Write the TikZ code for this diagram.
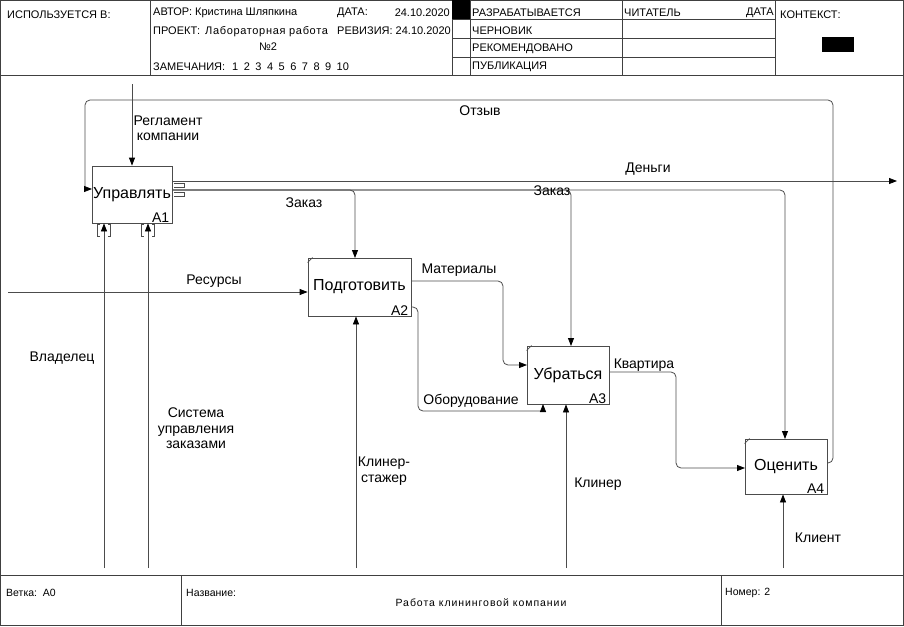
\documentclass[tikz,border=0pt]{standalone}
\usepackage{fontspec}
\setmainfont{Liberation Sans}
\usetikzlibrary{arrows.meta}

\begin{document}
\begin{tikzpicture}[x=1pt,y=-1pt,
  frame/.style={draw=black!75, line width=0.9pt},
  conn/.style={draw=black!70, line width=0.8pt},
  arr/.style={conn, -{Triangle[length=8pt,width=6pt,color=black]}},
  fn/.style={draw=black!70, line width=0.8pt, fill=white, inner sep=0pt,
    font=\fontsize{16}{18}\selectfont},
  fnum/.style={inner sep=0pt, anchor=south east, font=\fontsize{14}{16}\selectfont},
  lab/.style={inner sep=0pt, font=\fontsize{14}{15.5}\selectfont},
  hdr/.style={inner sep=0pt, anchor=west, font=\fontsize{11}{12}\selectfont},
  ftr/.style={inner sep=0pt, anchor=west, font=\fontsize{10.5}{12}\selectfont},
  tick/.style={draw=black!70, line width=0.7pt}
]
\useasboundingbox (0,0) rectangle (904,626);

% ---------- frame, header and footer ----------
\draw[frame] (0.5,0.5) rectangle (903,625.5);
\draw[frame] (0.5,75) -- (903,75);
\draw[frame] (150,0.5) -- (150,75);
\draw[frame] (452,0.5) -- (452,75);
\draw[frame] (470,0.5) -- (470,75);
\draw[frame] (622,0.5) -- (622,75);
\draw[frame] (775,0.5) -- (775,75);
\foreach \yy in {19,38,57} \draw[frame] (452,\yy) -- (775,\yy);
\fill[black] (452,0.5) rectangle (470,19);
\fill[black] (822,37) rectangle (854,52);
\draw[frame] (0.5,575) -- (903,575);
\draw[frame] (181,575) -- (181,625.5);
\draw[frame] (721,575) -- (721,625.5);

\node[hdr] (used) at (7,15) {ИСПОЛЬЗУЕТСЯ В:};
\node[hdr] (author) at (153,13) {АВТОР: Кристина Шляпкина};
\node[hdr] (date) at (337,13) {ДАТА:};
\node[hdr, anchor=east] (dateval) at (450,13) {24.10.2020};
\node[hdr] (project) at (153,31) {ПРОЕКТ:};
\node[hdr] (projname) at (205,32) {\addfontfeature{LetterSpace=6}Лабораторная работа};
\node[hdr, anchor=center] (projnum) at (268,47) {№2};
\node[hdr] (rev) at (337,31) {РЕВИЗИЯ: 24.10.2020};
\node[hdr] (notes) at (153,67) {ЗАМЕЧАНИЯ:\hspace{7pt}1\hspace{5.5pt}2\hspace{5.5pt}3\hspace{5.5pt}4\hspace{5.5pt}5\hspace{5.5pt}6\hspace{5.5pt}7\hspace{5.5pt}8\hspace{5.5pt}9\hspace{5.5pt}10};
\node[hdr] (st1) at (472,13) {РАЗРАБАТЫВАЕТСЯ};
\node[hdr] (st2) at (472,31) {ЧЕРНОВИК};
\node[hdr] (st3) at (472,49) {РЕКОМЕНДОВАНО};
\node[hdr] (st4) at (472,67) {ПУБЛИКАЦИЯ};
\node[hdr] (reader) at (624,13) {ЧИТАТЕЛЬ};
\node[hdr, anchor=east] (rdate) at (774,13) {ДАТА};
\node[hdr] (context) at (780,15) {КОНТЕКСТ:};

\node[ftr] (node) at (6,593) {Ветка:\ \ A0};
\node[ftr] (title) at (186,593) {Название:};
\node[ftr, anchor=center] (titletext) at (481,603) {\addfontfeature{LetterSpace=9}Работа клининговой компании};
\node[ftr] (number) at (725,593) {Номер: 2};

% ---------- function boxes ----------
\node[fn, minimum width=80pt, minimum height=57pt] (A1) at (132,194.5) {Управлять};
\node[fn, minimum width=103pt, minimum height=58pt] (A2) at (359.5,287) {Подготовить};
\node[fn, minimum width=82pt, minimum height=58pt] (A3) at (568,375) {Убраться};
\node[fn, minimum width=82pt, minimum height=55pt] (A4) at (786,466.5) {Оценить};

\node[fnum] (A1n) at ([xshift=-3pt,yshift=1pt]A1.south east) {A1};
\node[fnum] (A2n) at ([xshift=-3pt,yshift=1pt]A2.south east) {A2};
\node[fnum] (A3n) at ([xshift=-3pt,yshift=1pt]A3.south east) {A3};
\node[fnum] (A4n) at ([xshift=-3pt,yshift=1pt]A4.south east) {A4};

\foreach \b in {A2,A3,A4}
  \draw[tick] ([yshift=-5pt]\b.north west) -- ([xshift=5pt]\b.north west);

% ---------- ports and turning points ----------
\coordinate (regtop) at (132,84);
\coordinate (own) at (104,568);
\coordinate (sys) at (148,568);
\coordinate (res) at (8,292);
\coordinate (trn) at (356,568);
\coordinate (cln) at (566,568);
\coordinate (cli) at (783,568);
\coordinate (money) at (897,181);

\coordinate (a1o1) at (172,181);
\coordinate (a1o2) at (172,190);
\coordinate (a1i) at (92,189);
\coordinate (a2c) at (355,258);
\coordinate (a2o1) at (411,281);
\coordinate (a2o2) at (411,307);
\coordinate (a3i) at (527,365);
\coordinate (a3c) at (571,346);
\coordinate (a3m) at (543,404);
\coordinate (a3o) at (609,372);
\coordinate (a4i) at (745,468);
\coordinate (a4c) at (785,439);
\coordinate (a4o) at (827,463);

\coordinate (fbturn) at (85,189);
\coordinate (matturn) at (503,365);
\coordinate (eqbend) at (418,411);
\coordinate (eqturn) at (543,411);
\coordinate (kvturn) at (676,468);

% ---------- connectors ----------
\draw[arr] (regtop) -- (A1.north);
\draw[arr] (own) -- (own |- A1.south);
\draw[arr] (sys) -- (sys |- A1.south);
\draw[arr] (res) -- (res -| A2.west);
\draw[arr] (trn) -- (trn |- A2.south);
\draw[arr] (cln) -- (cln |- A3.south);
\draw[arr] (cli) -- (cli |- A4.south);

\draw[conn, rounded corners=5pt] (a4o) -| (833,100) -| (fbturn);
\draw[arr] (fbturn) -- (a1i);
\draw[arr] (a1o1) -- (money);
\draw[arr, rounded corners=5pt] (a1o2) -| (a2c);
\draw[arr, rounded corners=5pt] (a1o2) -| (a3c);
\draw[arr, rounded corners=5pt] (a1o2) -| (a4c);
\draw[arr, rounded corners=5pt] (a2o1) -| (matturn) -- (a3i);
\draw[conn, rounded corners=5pt] (a2o2) -| (eqbend) -- (eqturn);
\draw[arr] (eqturn) -- (a3m);
\draw[arr, rounded corners=5pt] (a3o) -| (kvturn) -- (a4i);

% tunnel brackets at the ends of A1's arrows
\foreach \xx in {104,148}{
  \draw[tick] (\xx-4,224) -- (\xx-6.5,224) -- (\xx-6.5,236) -- (\xx-4,236);
  \draw[tick] (\xx+4,224) -- (\xx+6.5,224) -- (\xx+6.5,236) -- (\xx+4,236);
}
\foreach \yy in {181,190}{
  \draw[tick] (174,\yy+2.5) -- (184,\yy+2.5) -- (184,\yy+6) -- (174,\yy+6);
}

% ---------- arrow labels ----------
\node[lab, align=center] (lreg) at (168,128.5) {Регламент\\компании};
\node[lab] (lfb) at (480,111) {Отзыв};
\node[lab] (lmoney) at (648,169) {Деньги};
\node[lab] (lord1) at (304,203) {Заказ};
\node[lab] (lord2) at (552,191) {Заказ};
\node[lab] (lres) at (214,281) {Ресурсы};
\node[lab] (lmat) at (459,270) {Материалы};
\node[lab] (leq) at (471,401) {Оборудование};
\node[lab] (lkv) at (644,365) {Квартира};
\node[lab] (lown) at (62,358) {Владелец};
\node[lab, align=center] (lsys) at (196,428.5) {Система\\управления\\заказами};
\node[lab, align=center] (ltrn) at (384,471) {Клинер-\\стажер};
\node[lab] (lcln) at (598,484) {Клинер};
\node[lab] (lcli) at (818,538) {Клиент};
\end{tikzpicture}
\end{document}
